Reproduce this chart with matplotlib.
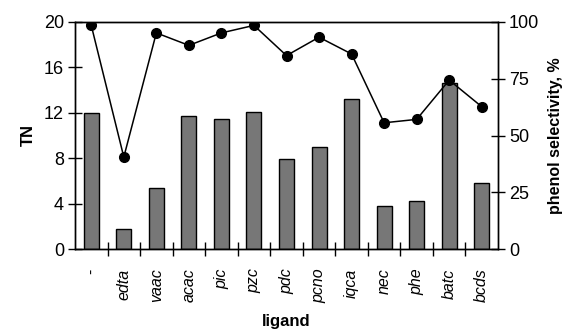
import numpy as np
import matplotlib.pyplot as plt

plt.rcParams['font.family'] = ['Liberation Sans', 'DejaVu Sans']

ligands = ['-', 'edta', 'vaac', 'acac', 'pic', 'pzc', 'pdc', 'pcno', 'iqca',
           'nec', 'phe', 'batc', 'bcds']
tn = [12.0, 1.8, 5.4, 11.7, 11.45, 12.1, 7.9, 9.0, 13.2, 3.8, 4.25, 14.6, 5.8]
selectivity = [98.5, 40.5, 95.2, 89.7, 95.2, 98.5, 85.2, 93.3, 85.9, 55.6,
               57.1, 74.4, 62.7]

fig = plt.figure(figsize=(5.7, 3.34), dpi=100)
ax = fig.add_axes([75/570, 1 - 249/334, 423/570, 227/334])
x = np.arange(len(ligands))

ax.bar(x, tn, width=0.46, color='#777777', edgecolor='black', linewidth=1.0, zorder=2)
ax.set_xlim(-0.5, len(ligands) - 0.5)
ax.set_ylim(0, 20)
ax.set_yticks([0, 4, 8, 12, 16, 20])
ax.set_ylabel('TN', fontsize=12, fontweight='bold', labelpad=6)
ax.set_xlabel('ligand', fontsize=12, fontweight='bold', labelpad=8)

# ticks between categories, crossing the axis
ax.set_xticks(np.arange(0.5, len(ligands) - 0.5, 1.0))
ax.set_xticklabels([])
ax.set_xticks(x, minor=True)
labels = ax.set_xticklabels(ligands, minor=True, rotation=90, fontsize=11.5)
for lab in labels:
    if lab.get_text() != '-':
        lab.set_style('italic')
ax.tick_params(axis='x', which='minor', length=0, pad=14)
ax.tick_params(axis='x', which='major', direction='inout', length=10, width=1)
ax.tick_params(axis='y', direction='inout', length=10, width=1, labelsize=13, pad=3)

ax2 = ax.twinx()
ax2.plot(x, selectivity, '-o', color='black', markersize=7, linewidth=1.1, zorder=3)
ax2.set_ylim(0, 100)
ax2.set_yticks([0, 25, 50, 75, 100])
ax2.tick_params(axis='y', direction='inout', length=10, width=1, labelsize=13, pad=3)
ax2.set_ylabel('phenol selectivity, %', fontsize=11.5, fontweight='bold', labelpad=6)

for a in (ax, ax2):
    for s in a.spines.values():
        s.set_linewidth(1.0)

fig.savefig('out.png', dpi=100)
